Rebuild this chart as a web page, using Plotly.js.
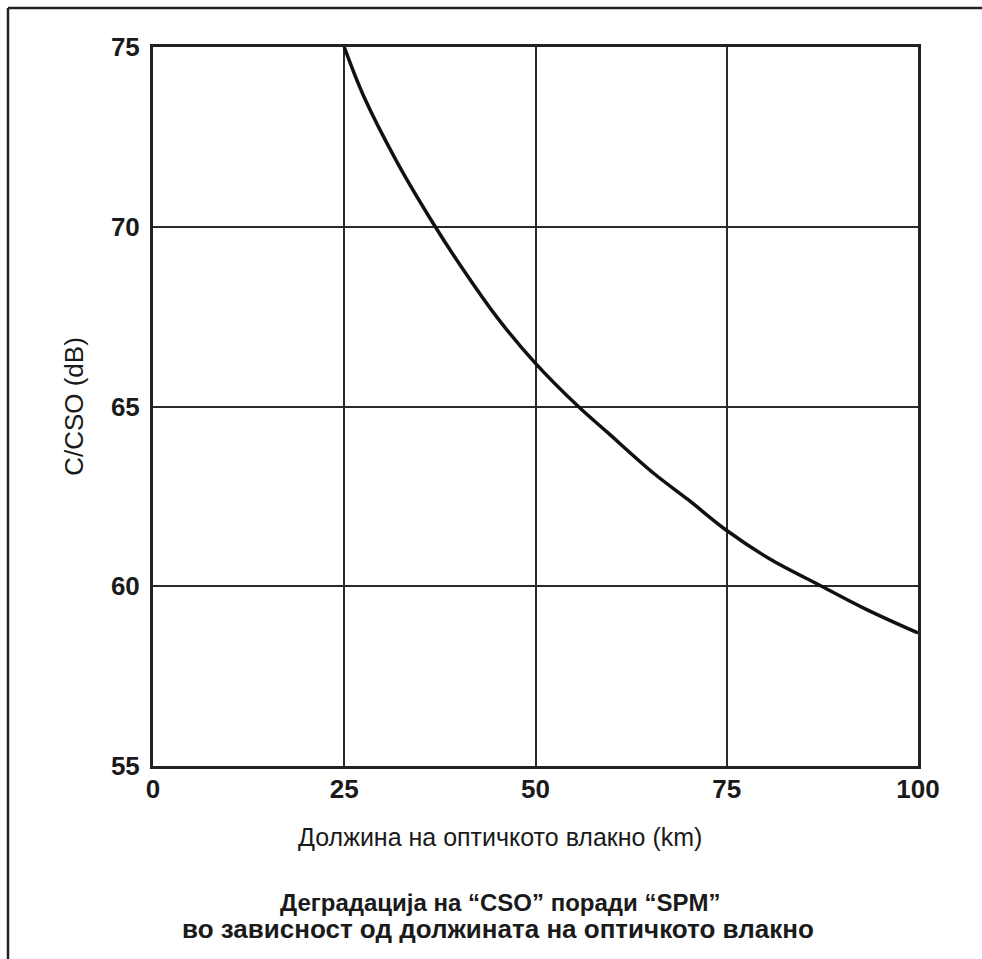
<!DOCTYPE html>
<html>
<head>
<meta charset="utf-8">
<script src="https://cdn.plot.ly/plotly-3.0.1.min.js"></script>
<style>
  html, body { margin: 0; padding: 0; background: #fff; }
  #chart { width: 982px; height: 959px; }
</style>
</head>
<body>
<div id="chart"></div>
<script>
// Data
const lengthKm = [25, 27.5, 31.9, 36.9, 40.1, 44.9, 50.0, 55.6, 59.3, 65.4, 70.0, 75.0, 80.7, 87.4, 93.3, 100];
const csoDb    = [75, 73.65, 71.8, 70.0, 68.95, 67.5, 66.2, 65.0, 64.3, 63.15, 62.4, 61.55, 60.75, 60.0, 59.35, 58.7];
const xTicks = [0, 25, 50, 75, 100];
const yTicks = [55, 60, 65, 70, 75];
const xTitle = 'Должина на оптичкото влакно (km)';
const yTitle = 'C/CSO (dB)';
const titleLine1 = 'Деградација на “CSO” поради “SPM”';
const titleLine2 = 'во зависност од должината на оптичкото влакно';

const L = 153, T = 47, W = 765, H = 719, FW = 982, FH = 959;
const px = x => (x - L) / W;
const py = y => (T + H - y) / H;

const trace = {
  x: lengthKm, y: csoDb, type: 'scatter', mode: 'lines',
  line: { color: '#111', width: 3.5, shape: 'spline', smoothing: 1.0 },
  hoverinfo: 'x+y', showlegend: false
};

const FONT = 'Liberation Sans, Arial, sans-serif';
const tickFont = { family: FONT, size: 26, color: '#1a1a1a', weight: 'bold' };

const layout = {
  width: FW, height: FH,
  margin: { l: L, t: T, r: FW - L - W, b: FH - T - H, pad: 0 },
  paper_bgcolor: '#fff', plot_bgcolor: '#fff',
  showlegend: false,
  xaxis: {
    range: [0, 100], tickvals: xTicks, ticktext: xTicks.map(String),
    showgrid: true, gridcolor: '#2a2a2a', gridwidth: 2,
    showline: true, linecolor: '#222', linewidth: 3, mirror: true,
    zeroline: false, ticks: '', ticklabelstandoff: -2,
    tickfont: tickFont, fixedrange: true
  },
  yaxis: {
    range: [55, 75], tickvals: yTicks, ticktext: yTicks.map(String),
    showgrid: true, gridcolor: '#2a2a2a', gridwidth: 2,
    showline: true, linecolor: '#222', linewidth: 3, mirror: true,
    zeroline: false, ticks: '', ticklabelstandoff: 5,
    tickfont: tickFont, fixedrange: true,
    title: { text: yTitle, standoff: 20,
      font: { family: FONT, size: 26, color: '#1a1a1a' } }
  },
  annotations: [
    { text: xTitle, xref: 'paper', yref: 'paper', x: px(500), y: py(837),
      xanchor: 'center', yanchor: 'middle', showarrow: false,
      font: { family: FONT, size: 25, color: '#1a1a1a' } },
    { text: titleLine1, xref: 'paper', yref: 'paper', x: px(500), y: py(903),
      xanchor: 'center', yanchor: 'middle', showarrow: false,
      font: { family: FONT, size: 24, color: '#1a1a1a', weight: 'bold' } },
    { text: titleLine2, xref: 'paper', yref: 'paper', x: px(498), y: py(929),
      xanchor: 'center', yanchor: 'middle', showarrow: false,
      font: { family: FONT, size: 26, color: '#1a1a1a', weight: 'bold' } }
  ],
  shapes: [
    { type: 'line', xref: 'paper', yref: 'paper', x0: px(8), x1: px(8), y0: py(8), y1: py(FH + 20),
      line: { color: '#222', width: 2.5 } },
    { type: 'line', xref: 'paper', yref: 'paper', x0: px(8), x1: px(FW + 20), y0: py(8), y1: py(8),
      line: { color: '#222', width: 2.5 } }
  ]
};

Plotly.newPlot('chart', [trace], layout, { displayModeBar: false, staticPlot: true });
</script>
</body>
</html>
